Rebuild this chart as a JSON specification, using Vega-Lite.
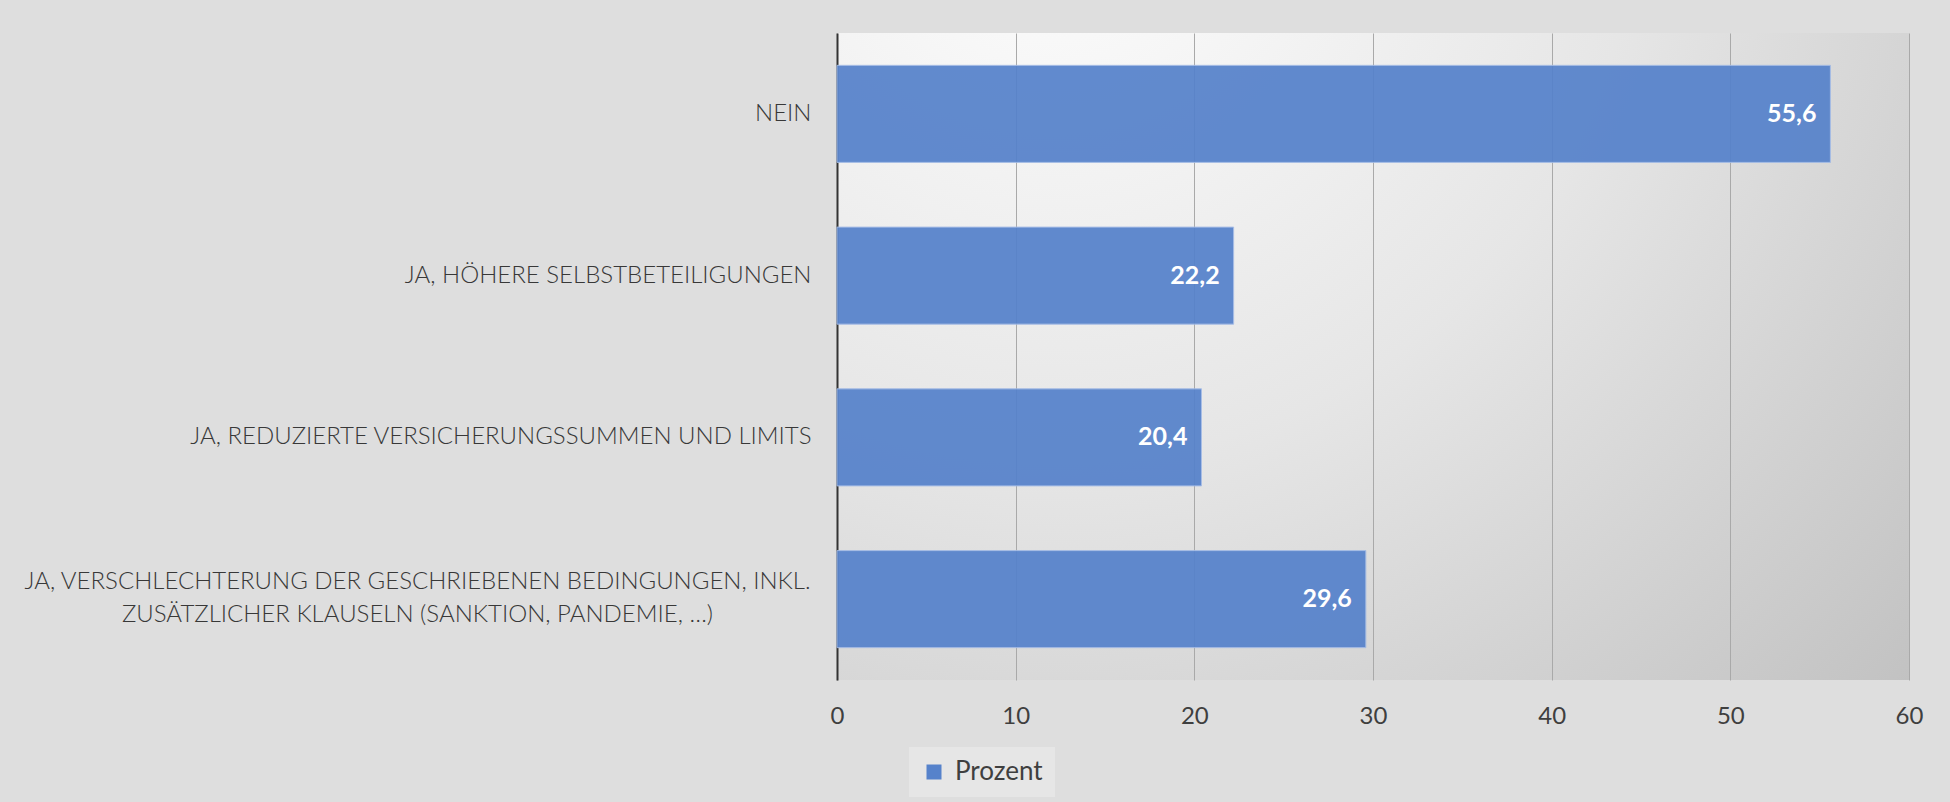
{
  "$schema": "https://vega.github.io/schema/vega-lite/v6.json",
  "autosize": {"type": "none"},
  "padding": {"left": 837, "top": 33, "right": 41, "bottom": 122},
  "width": 1072,
  "height": 647,
  "background": "#dedede",
  "config": {
    "font": "Lato",
    "locale": {"number": {"decimal": ",", "thousands": ".", "grouping": [3], "currency": ["", " €"]}},
    "view": {
      "stroke": null,
      "fill": {"gradient": "radial", "x1": 0.2, "y1": 0.05, "r1": 0, "x2": 0.2, "y2": 0.05, "r2": 1.1,
        "stops": [{"offset": 0, "color": "#ffffff"}, {"offset": 0.5, "color": "#e6e6e6"}, {"offset": 1, "color": "#c2c2c2"}]}
    }
  },
  "data": {"values": [
    {"kategorie": "NEIN", "prozent": 55.6},
    {"kategorie": "JA, HÖHERE SELBSTBETEILIGUNGEN", "prozent": 22.2},
    {"kategorie": "JA, REDUZIERTE VERSICHERUNGSSUMMEN UND LIMITS", "prozent": 20.4},
    {"kategorie": "JA, VERSCHLECHTERUNG DER GESCHRIEBENEN BEDINGUNGEN, INKL. ZUSÄTZLICHER KLAUSELN (SANKTION, PANDEMIE, …)", "prozent": 29.6}
  ]},
  "encoding": {
    "y": {
      "field": "kategorie", "type": "nominal", "sort": null, "title": null,
      "scale": {"paddingInner": 0.4, "paddingOuter": 0.2},
      "axis": {
        "labelExpr": "split(replace(datum.label, 'INKL. ', 'INKL.\\n'), '\\n')",
        "labelFont": "Lato", "labelFontWeight": 300, "labelFontSize": 24, "labelColor": "#383838",
        "labelLineHeight": 33,
        "labelAlign": {"condition": {"test": "indexof(datum.label, 'INKL') >= 0", "value": "center"}, "value": "right"},
        "labelPadding": {"condition": {"test": "indexof(datum.label, 'INKL') >= 0", "value": 420}, "value": 26},
        "labelOffset": {"condition": {"test": "indexof(datum.label, 'INKL') >= 0", "value": -17}, "value": 0},
        "labelLimit": 900,
        "ticks": false, "domain": true, "domainColor": "#333333", "domainWidth": 2,
        "grid": false
      }
    },
    "x": {
      "field": "prozent", "type": "quantitative", "title": null,
      "scale": {"domain": [0, 60], "nice": false},
      "axis": {
        "values": [0, 10, 20, 30, 40, 50, 60],
        "domain": false, "ticks": false,
        "grid": true, "gridColor": "#a9a9a9", "gridWidth": 1,
        "labelFont": "Lato", "labelFontSize": 24, "labelColor": "#3f3f3f", "labelPadding": 24,
        "labelFlush": false
      }
    }
  },
  "layer": [
    {
      "mark": {"type": "bar", "opacity": 0.93, "stroke": "#a3bbe6", "strokeWidth": 1},
      "encoding": {
        "color": {"datum": "Prozent", "type": "nominal",
          "scale": {"range": ["#5682cb"]},
          "legend": {
            "title": null, "orient": "none", "legendX": 72, "legendY": 714,
            "symbolType": "square", "symbolSize": 225, "symbolStrokeWidth": 0, "symbolOpacity": 1,
            "labelFont": "Lato", "labelFontSize": 26, "labelColor": "#3f3f3f",
            "fillColor": "#e6e6e6", "padding": 12, "labelOffset": 8
          }
        }
      }
    },
    {
      "mark": {"type": "text", "align": "right", "baseline": "middle", "dx": -14, "color": "#ffffff", "fontWeight": "bold", "fontSize": 25, "font": "Lato"},
      "encoding": {"text": {"field": "prozent", "type": "quantitative", "format": ".1f"}}
    }
  ]
}
